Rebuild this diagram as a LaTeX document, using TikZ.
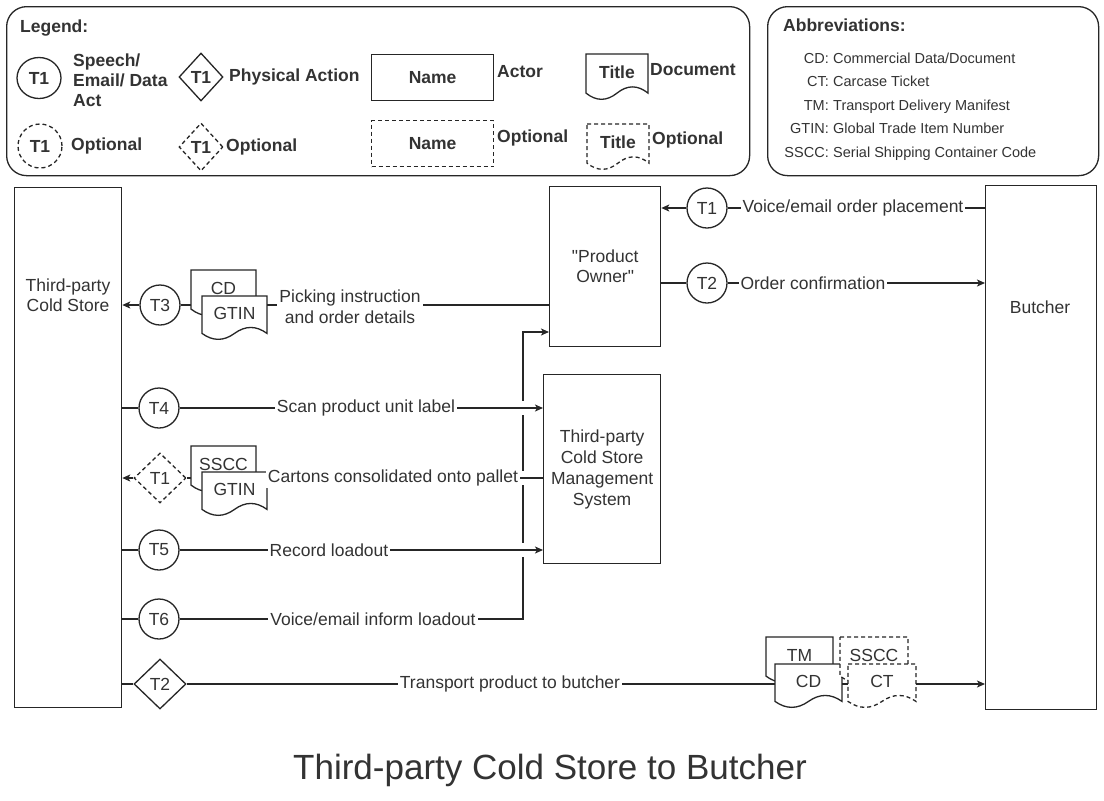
\documentclass[tikz,border=0pt]{standalone}
\usepackage{fontspec}
\setmainfont{Liberation Sans}
\usetikzlibrary{shapes.geometric,arrows.meta}
\definecolor{ln}{HTML}{262626}
\definecolor{txt}{HTML}{333333}

% document symbol with a wavy lower edge, plus a named frame node and a text node
% #1 line style, #2 name, #3 x, #4 y (top), #5 width, #6 height, #7 text style, #8 text
\newcommand\docnode[8][]{%
  \draw[docline,#1] (#3,#4) -- ({#3+#5},#4) -- ({#3+#5},{#4+0.85*#6})
    .. controls ({#3+0.8333*#5},{#4+0.67*#6}) and ({#3+0.6667*#5},{#4+0.67*#6}) .. ({#3+0.5*#5},{#4+0.85*#6})
    .. controls ({#3+0.3333*#5},{#4+1.03*#6}) and ({#3+0.1667*#5},{#4+1.03*#6}) .. (#3,{#4+0.85*#6}) -- cycle;
  \node[inner sep=0pt, minimum width=#5pt, minimum height=#6pt, anchor=north west] (#2) at (#3,#4) {};
  \node[#7] (#2-t) at ({#3+0.5*#5},{#4+0.4*#6}) {#8};
}

\tikzset{
  base/.style={font=\fontsize{17.5}{20}\selectfont, text=txt},
  legtxt/.style={font=\bfseries\fontsize{17.5}{20}\selectfont, text=txt},
  docline/.style={draw=ln, line width=1.3pt, fill=white},
  dashedline/.style={dash pattern=on 4pt off 3pt},
  actor/.style={draw=ln, line width=1.3pt, fill=white, inner sep=0pt, align=center, base},
  tcirc/.style={circle, draw=ln, line width=1.3pt, fill=white, minimum size=40pt, inner sep=0pt, base},
  tdiam/.style={diamond, draw=ln, line width=1.3pt, fill=white, minimum width=52pt, minimum height=50pt, inner sep=0pt, base},
  conn/.style={draw=ln, line width=1.3pt},
  arr/.style={conn, -{Stealth[length=8pt,width=7pt,inset=2pt]}},
  lbl/.style={base, fill=white, inner sep=2pt, align=center},
  panel/.style={draw=ln, line width=1.3pt, rounded corners=20pt},
  abbkey/.style={font=\fontsize{14.5}{17}\selectfont, text=txt, inner sep=0pt, anchor=base east},
  abbval/.style={font=\fontsize{14.5}{17}\selectfont, text=txt, inner sep=0pt, anchor=base west},
}

\begin{document}
\begin{tikzpicture}[x=1pt,y=-1pt]
\useasboundingbox[fill=white] (0,0) rectangle (1104,801);

% ---------------- legend panel ----------------
\node[panel, minimum width=743pt, minimum height=169pt, anchor=north west] (legend) at (6,6) {};
\node[legtxt, anchor=west, inner sep=0pt] (legtitle) at (20,28) {Legend:};

\node[ellipse, draw=ln, line width=1.3pt, minimum width=44pt, minimum height=41pt, inner sep=0pt, legtxt] (lc1) at (39,78) {T1};
\node[legtxt, anchor=west, align=left, inner sep=0pt] (lc1t) at (73,80) {Speech/\\Email/ Data\\Act};
\node[diamond, draw=ln, line width=1.3pt, minimum width=44pt, minimum height=48pt, inner sep=0pt, legtxt] (ld1) at (201,77) {T1};
\node[legtxt, anchor=west, inner sep=0pt] (ld1t) at (229,77) {Physical Action};
\node[draw=ln, line width=1.3pt, minimum width=122pt, minimum height=46pt, inner sep=0pt, anchor=north west, legtxt] (la1) at (371,54) {Name};
\node[legtxt, anchor=west, inner sep=0pt] (la1t) at (497,72) {Actor};
\docnode{ldoc1}{586}{54}{62}{46}{legtxt}{Title}
\node[legtxt, anchor=west, inner sep=0pt] (ldoc1l) at (650,70) {Document};

\node[ellipse, dashedline, draw=ln, line width=1.3pt, minimum width=44pt, minimum height=44pt, inner sep=0pt, legtxt] (lc2) at (40,146) {T1};
\node[legtxt, anchor=west, inner sep=0pt] (lc2t) at (71,146) {Optional};
\node[diamond, dashedline, draw=ln, line width=1.3pt, minimum width=44pt, minimum height=48pt, inner sep=0pt, legtxt] (ld2) at (201,147) {T1};
\node[legtxt, anchor=west, inner sep=0pt] (ld2t) at (226,147) {Optional};
\node[dashedline, draw=ln, line width=1.3pt, minimum width=122pt, minimum height=46pt, inner sep=0pt, anchor=north west, legtxt] (la2) at (371,120) {Name};
\node[legtxt, anchor=west, inner sep=0pt] (la2t) at (497,138) {Optional};
\docnode[dashedline]{ldoc2}{587}{124}{62}{46}{legtxt}{Title}
\node[legtxt, anchor=west, inner sep=0pt] (ldoc2l) at (652,140) {Optional};

% ---------------- abbreviations panel ----------------
\node[panel, minimum width=331pt, minimum height=169pt, anchor=north west] (abbr) at (767,6) {};
\node[legtxt, anchor=west, inner sep=0pt] (abbrtitle) at (783,25) {Abbreviations:};
\node[abbkey] (k1) at (829,63) {CD:};   \node[abbval] (v1) at (833,63) {Commercial Data/Document};
\node[abbkey] (k2) at (829,86.5) {CT:}; \node[abbval] (v2) at (833,86.5) {Carcase Ticket};
\node[abbkey] (k3) at (829,110) {TM:};  \node[abbval] (v3) at (833,110) {Transport Delivery Manifest};
\node[abbkey] (k4) at (829,133.5) {GTIN:}; \node[abbval] (v4) at (833,133.5) {Global Trade Item Number};
\node[abbkey] (k5) at (829,157) {SSCC:}; \node[abbval] (v5) at (833,157) {Serial Shipping Container Code};

% ---------------- actors ----------------
\node[actor, minimum width=107pt, minimum height=520pt, anchor=north west] (cs) at (14,187) {};
\node[base, align=center, inner sep=0pt] (csl) at (68,295) {Third-party\\Cold Store};
\node[actor, minimum width=111pt, minimum height=524pt, anchor=north west] (bu) at (985,185) {};
\node[base, inner sep=0pt] (bul) at (1040,307) {Butcher};
\node[actor, minimum width=111pt, minimum height=160pt, anchor=north west] (po) at (549,186) {\textquotedbl Product\\Owner\textquotedbl};
\node[actor, minimum width=117pt, minimum height=189pt, anchor=north west, font=\fontsize{17.5}{21}\selectfont] (csms) at (543,374) {Third-party\\Cold Store\\Management\\System};

% ---------------- transactions ----------------
\node[tcirc] (t1) at (707,208) {T1};
\node[tcirc] (t2) at (707,283) {T2};
\node[tcirc] (t3) at (160,305) {T3};
\node[tcirc] (t4) at (159,408) {T4};
\node[tdiam, dashedline] (t1d) at (160,478) {T1};
\node[tcirc] (t5) at (159,550) {T5};
\node[tcirc] (t6) at (159,619) {T6};
\node[tdiam] (t2d) at (160,684) {T2};

% ---------------- documents ----------------
\docnode{cdA}{191}{270}{65}{46}{base}{CD}
\docnode{gtinA}{202}{296}{65}{44}{base}{GTIN}
\docnode{ssccB}{191}{446}{65}{46}{base}{SSCC}
\docnode{gtinB}{202}{472}{65}{44}{base}{GTIN}
\docnode{tmC}{766}{637}{67}{46}{base}{TM}
\docnode{cdC}{775}{664}{67}{44}{base}{CD}
\docnode[dashedline]{ssccC}{840}{637}{68}{46}{base}{SSCC}
\docnode[dashedline]{ctC}{848}{664}{68}{44}{base}{CT}

% ---------------- connectors ----------------
% loadout notice, routed up to the product owner
\coordinate (bend) at (523,332);
\draw[arr] (t6) -| (bend) -- (po.west |- bend);
% line jumps where the vertical run crosses the rows
\fill[white] (519,401) rectangle (527,415);
\fill[white] (519,471) rectangle (527,485);
\fill[white] (519,543) rectangle (527,557);

% T1 order placement
\draw[conn] (bu.west |- t1) -- (t1);
\draw[arr] (t1) -- (po.east |- t1);
% T2 order confirmation
\draw[conn] (po.east |- t2) -- (t2);
\draw[arr] (t2) -- (bu.west |- t2);
% T3 picking instruction
\draw[conn] (po.west |- t3) -- (gtinA.east |- t3);
\draw[conn] (cdA.west |- t3) -- (t3);
\draw[arr] (t3) -- (cs.east |- t3);
% T4 scan
\draw[conn] (cs.east |- t4) -- (t4);
\draw[arr] (t4) -- (csms.west |- t4);
% optional T1 consolidation
\draw[conn] (csms.west |- t1d) -- (gtinB.east |- t1d);
\draw[conn] (ssccB.west |- t1d) -- (t1d);
\draw[arr] (t1d) -- (cs.east |- t1d);
% T5 loadout record
\draw[conn] (cs.east |- t5) -- (t5);
\draw[arr] (t5) -- (csms.west |- t5);
% T6 start
\draw[conn] (cs.east |- t6) -- (t6);
% T2 transport
\draw[conn] (cs.east |- t2d) -- (t2d);
\draw[conn] (t2d) -- (cdC.west |- t2d);
\draw[conn] (cdC.east |- t2d) -- (ctC.west |- t2d);
\draw[arr] (ctC.east |- t2d) -- (bu.west |- t2d);

% ---------------- connector labels ----------------
\node[lbl] (l1) at (853,208) {Voice/email order placement};
\node[lbl] (l2) at (813,283) {Order confirmation};
\node[lbl, font=\fontsize{17.5}{21}\selectfont] (l3) at (350,307) {Picking instruction\\and order details};
\node[lbl] (l4) at (366,408) {Scan product unit label};
\node[lbl] (l1d) at (393,478) {Cartons consolidated onto pallet};
\node[lbl] (l5) at (329,550) {Record loadout};
\node[lbl] (l6) at (373,619) {Voice/email inform loadout};
\node[lbl] (l2d) at (510,684) {Transport product to butcher};

% ---------------- title ----------------
\node[font=\fontsize{35}{40}\selectfont, text=txt] (title) at (550,770) {Third-party Cold Store to Butcher};
\end{tikzpicture}
\end{document}
